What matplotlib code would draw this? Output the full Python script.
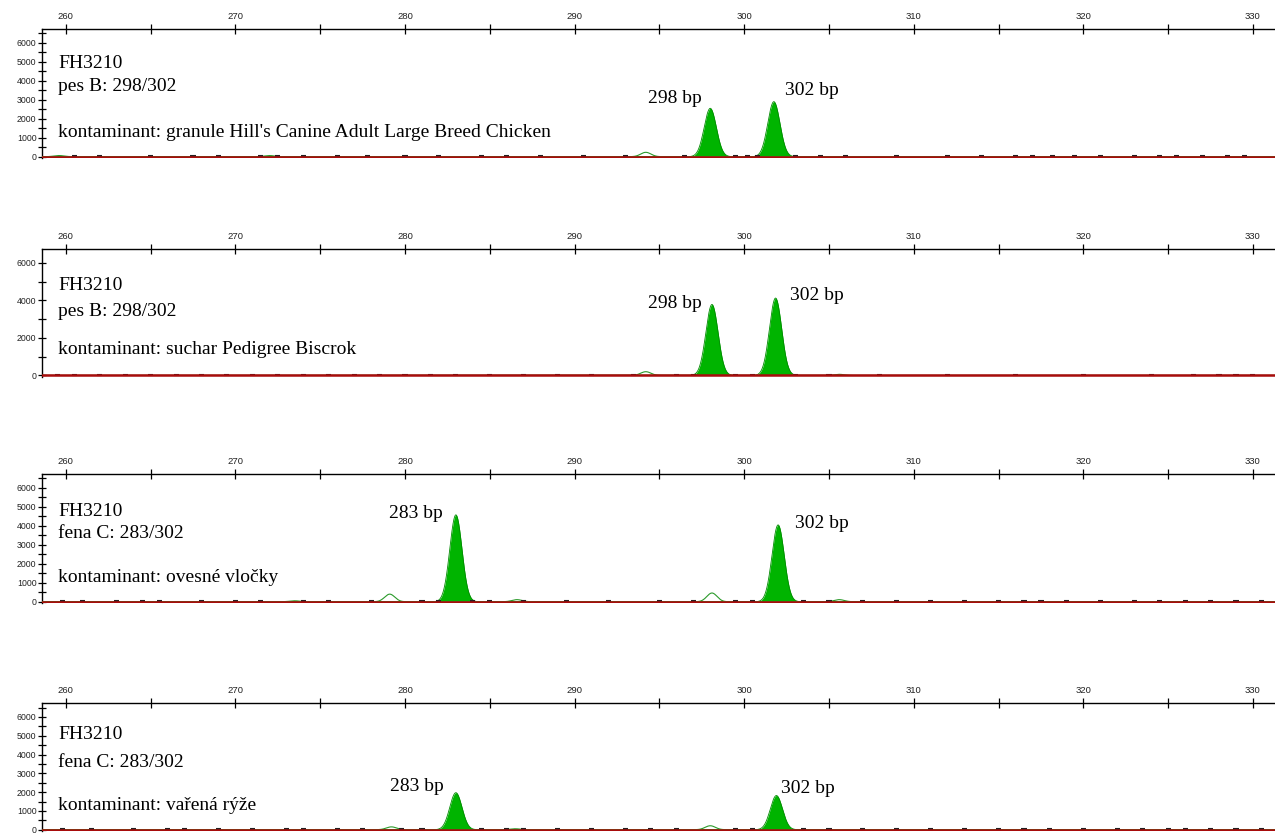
import numpy as np
import matplotlib
matplotlib.use("Agg")
import matplotlib.pyplot as plt
from matplotlib.ticker import MultipleLocator

# size axis (bp) and intensity (RFU)
TITLES = ["FH3210"] * 4
SAMPLES = ["pes B: 298/302", "pes B: 298/302", "fena C: 283/302", "fena C: 283/302"]
CONTAMINANTS = [
    "kontaminant: granule Hill's Canine Adult Large Breed Chicken",
    "kontaminant: suchar Pedigree Biscrok",
    "kontaminant: ovesné vločky",
    "kontaminant: vařená rýže",
]

# called allele peaks: (size bp, height RFU)
PEAKS = [
    [(298.0, 2550), (301.75, 2900)],
    [(298.1, 3780), (301.85, 4120)],
    [(283.0, 4580), (302.0, 4050)],
    [(283.0, 1970), (301.9, 1820)],
]
PEAK_LABELS = [
    ["298 bp", "302 bp"],
    ["298 bp", "302 bp"],
    ["283 bp", "302 bp"],
    ["283 bp", "302 bp"],
]
# label anchor (bp, RFU)
LABEL_POS = [
    [(294.3, 2840), (302.4, 3260)],
    [(294.3, 3570), (302.7, 4000)],
    [(279.05, 4420), (303.0, 3890)],
    [(279.1, 2070), (302.2, 1970)],
]
# small unfilled stutter / off-ladder bumps
MINOR = [
    [(294.2, 230), (259.6, 60), (272.0, 60)],
    [(294.2, 200), (305.6, 60)],
    [(279.1, 400), (286.6, 110), (298.1, 460), (305.6, 110), (273.5, 50)],
    [(279.2, 150), (298.0, 210), (286.5, 50)],
]
# baseline specks of other dye channels (bp)
SPECKS = [
    [260.5, 262, 265, 267.5, 269, 271.5, 272.5, 274, 276, 277.8, 280, 282, 284.5,
     286, 288, 290.5, 293, 296.5, 299.5, 300.2, 300.8, 303, 304.5, 306, 309, 312,
     314, 316, 317, 318.2, 319.5, 321, 323, 324.5, 325.5, 327, 328.5, 329.5],
    [259.5, 260.5, 262, 263.5, 265, 266.5, 268, 269.5, 271, 272.5, 274, 275.5, 277,
     278.5, 280, 281.5, 283, 285, 287, 289, 291, 293.5, 296, 297, 299.5, 300.5, 303,
     305, 308, 312, 316, 320, 324, 326.5, 328, 329, 330],
    [259.8, 261, 263, 264.5, 265.5, 268, 270, 271.5, 274, 275.5, 278, 281, 282, 284,
     285, 287, 289.5, 292, 295, 297, 299.5, 300.5, 303.5, 305, 307, 309, 311, 313,
     315, 316.5, 317.5, 319, 321, 323, 324.5, 326, 327.5, 329, 330.5],
    [259.8, 261.5, 264, 266, 267, 269, 271, 273, 274, 276, 277.5, 279.8, 281, 284.5,
     286, 287, 289, 291, 293, 294.5, 296, 299.5, 300.5, 303.5, 305, 307, 309, 311,
     313, 315, 316.5, 318, 320, 322, 323.5, 325, 326, 327.5, 329, 330.5],
]
Y_MAJOR = [1000, 2000, 1000, 1000]
Y_MINOR = [500, 1000, 500, 500]

# layout (figure fractions) and text baselines (axes fractions)
AX_BOXES = [(0.033, 0.811, 0.967, 0.1545),
            (0.033, 0.549, 0.967, 0.153),
            (0.033, 0.278, 0.967, 0.1545),
            (0.033, 0.005, 0.967, 0.153)]
TEXT_Y = [(0.70, 0.52, 0.165), (0.68, 0.478, 0.175),
          (0.675, 0.50, 0.163), (0.72, 0.50, 0.165)]

SIGMA = 0.36
GREEN = "#00b400"
x = np.linspace(258, 332, 6000)


def peak(center, height, sigma=SIGMA):
    return height * np.exp(-0.5 * ((x - center) / sigma) ** 2)


fig = plt.figure(figsize=(12.75, 8.35), dpi=100)
serif = ["Liberation Serif", "DejaVu Serif"]
for i in range(4):
    ax = fig.add_axes(AX_BOXES[i])
    ax.set_xlim(258.6, 331.3)
    ax.set_ylim(-60, 6740)

    for (c, h) in PEAKS[i]:
        y = peak(c, h)
        ax.fill_between(x, 0, y, color=GREEN, lw=0, zorder=2)
        ax.plot(x, y, color="#008a00", lw=0.6, zorder=3)
    for (c, h) in MINOR[i]:
        ax.plot(x, peak(c, h, 0.3), color="#2a9a2a", lw=0.8, zorder=3)
    for s in SPECKS[i]:
        ax.plot([s - 0.15, s + 0.15], [40, 40], color="#222222", lw=1.5,
                solid_capstyle="butt", zorder=3)
    ax.axhline(0, color="#a80c0c", lw=1.8, zorder=4)

    for (lbl, (lx, ly)) in zip(PEAK_LABELS[i], LABEL_POS[i]):
        ax.text(lx, ly, lbl, family=serif, fontsize=14, va="baseline", ha="left")

    ty = TEXT_Y[i]
    ax.text(0.013, ty[0], TITLES[i], transform=ax.transAxes, family=serif,
            fontsize=14, va="baseline")
    ax.text(0.013, ty[1], SAMPLES[i], transform=ax.transAxes, family=serif,
            fontsize=14, va="baseline")
    ax.text(0.013, ty[2], CONTAMINANTS[i], transform=ax.transAxes, family=serif,
            fontsize=14, va="baseline")

    for side in ("bottom", "right"):
        ax.spines[side].set_visible(False)
    for side in ("top", "left"):
        ax.spines[side].set_linewidth(1.0)
    ax.xaxis.tick_top()
    ax.xaxis.set_major_locator(MultipleLocator(10))
    ax.xaxis.set_minor_locator(MultipleLocator(5))
    ax.yaxis.set_major_locator(MultipleLocator(Y_MAJOR[i]))
    ax.yaxis.set_minor_locator(MultipleLocator(Y_MINOR[i]))
    ax.set_yticks([t for t in ax.get_yticks() if 0 <= t <= 6000])
    ax.tick_params(axis="x", which="both", direction="inout", length=7, width=0.9,
                   labelsize=6.8, pad=2, labelcolor="#222222")
    ax.tick_params(axis="y", which="both", direction="inout", length=6, width=0.9,
                   labelsize=6.3, pad=1, labelcolor="#222222")
    for t in ax.get_xticklabels() + ax.get_yticklabels():
        t.set_family(["Liberation Sans", "DejaVu Sans"])

fig.savefig("out.png", dpi=100)
